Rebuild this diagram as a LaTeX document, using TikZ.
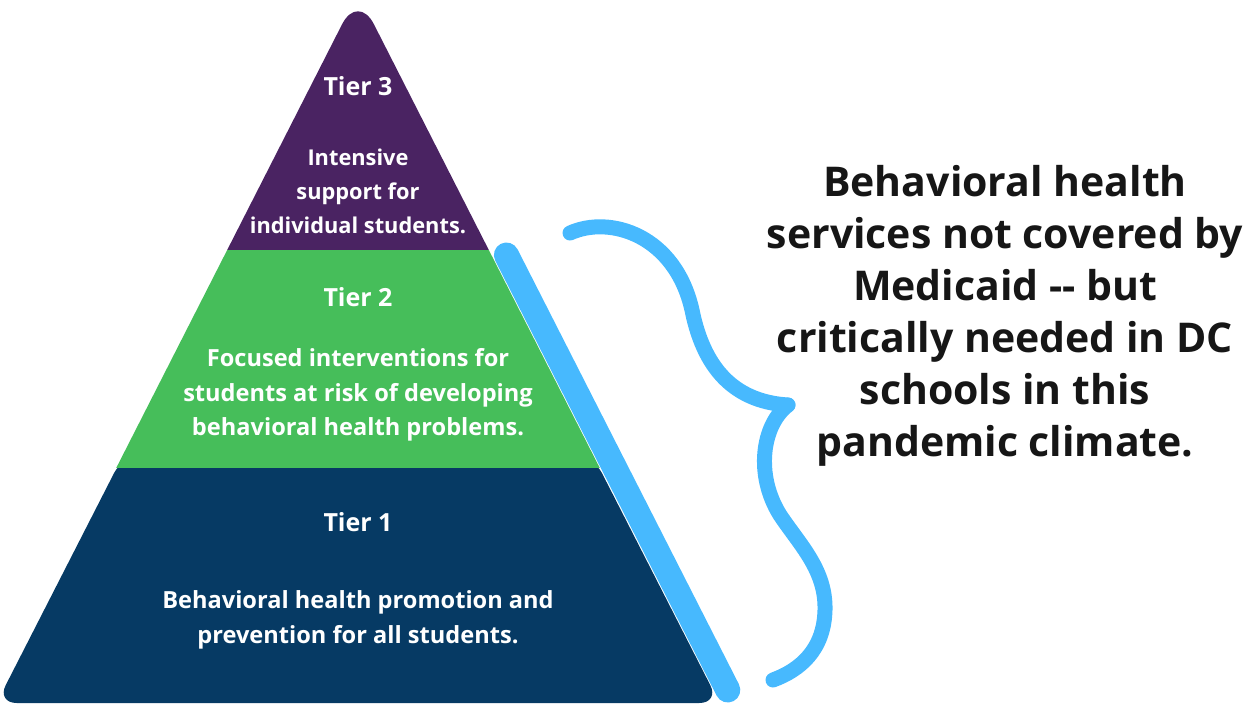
\documentclass[tikz,border=0pt]{standalone}
\usepackage{fontspec}
\setmainfont{Open Sans}

\begin{document}
\begin{tikzpicture}[
    x=1pt, y=-1pt,
    tiername/.style={text=white, font=\fontsize{25}{30}\selectfont\bfseries},
    tiertext/.style={text=white, align=center,
                     font=\fontsize{23.6}{34.5}\selectfont\bfseries},
    brace/.style={c4, line width=15pt, line cap=round, line join=miter},
]

\definecolor{c1}{HTML}{063A64}   % tier 1
\definecolor{c2}{HTML}{46BE5A}   % tier 2
\definecolor{c3}{HTML}{4A2362}   % tier 3
\definecolor{c4}{HTML}{47B9FE}   % band and brace
\definecolor{notecolor}{HTML}{161616}

\useasboundingbox (0,0) rectangle (1256,704);

% ------------------------------------------------------------ band behind the right side
\draw[c4, line width=25pt, line cap=round] (506.4,255) -- (727.8,690);

% ------------------------------------------------------------ pyramid
% tier 1 starts just under the green edge, so only the base corners show its rounding
\fill[c1, rounded corners=20pt]
    (123.3,455) -- (592.7,455) -- (719.4,703) -- (-3.4,703) -- cycle;
\begin{scope}
    \clip[rounded corners=35pt] (358,-7) -- (719.4,703) -- (-3.4,703) -- cycle;
    \fill[c2] (-10,250) rectangle (740,468);
    \fill[c3] (-10,-20) rectangle (740,250);
\end{scope}

\node[tiername] (t3) at (358,86) {Tier 3};
\node[tiertext, font=\fontsize{21.8}{34}\selectfont\bfseries] (t3txt) at (358,191)
    {Intensive\\support for\\individual students.};

\node[tiername] (t2) at (358,297) {Tier 2};
\node[tiertext] (t2txt) at (358,395)
    {Focused interventions for\\students at risk of developing\\behavioral health problems.};

\node[tiername] (t1) at (358,522) {Tier 1};
\node[tiertext] (t1txt) at (358,620)
    {Behavioral health promotion and\\prevention for all students.};

% ------------------------------------------------------------ the brace
\coordinate (tip) at (788,405);
\draw[brace] (570,233) .. controls (610,215) and (675,235) .. (692,310)
    .. controls (705,375) and (740,402) .. (tip);
\draw[brace] (tip) .. controls (762,425) and (755,475) .. (780,515)
    .. controls (800,545) and (826,570) .. (825,610)
    .. controls (824,650) and (800,670) .. (773,680);

% ------------------------------------------------------------ the note
\node[text=notecolor, align=center, font=\fontsize{41}{52}\selectfont\bfseries]
    (note) at (1005,316)
    {Behavioral health\\services not covered by\\Medicaid -{}- but\\critically needed in DC\\schools in this\\pandemic climate.};

\end{tikzpicture}
\end{document}
